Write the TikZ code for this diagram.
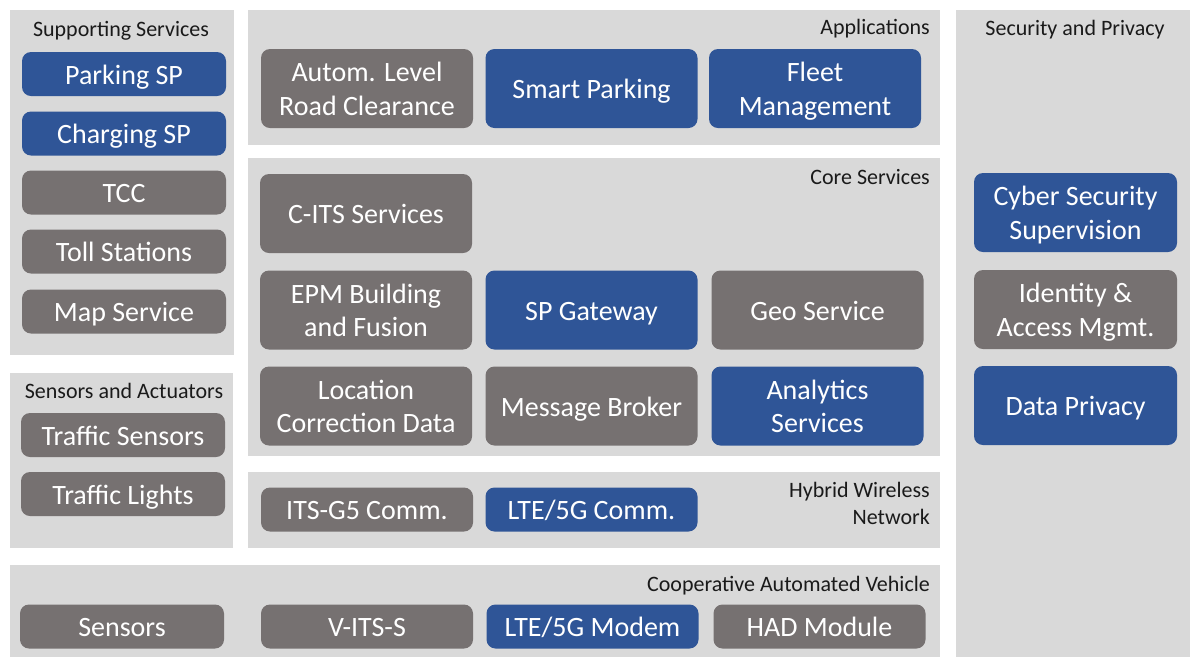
\documentclass[tikz,border=0pt]{standalone}
\usepackage{fontspec}
\setmainfont{Carlito}
\definecolor{panelgray}{HTML}{D9D9D9}
\definecolor{boxblue}{HTML}{2F5597}
\definecolor{boxgray}{HTML}{767171}
\definecolor{titletext}{HTML}{1A1A1A}
% fixed line box so that every label sits on the same baseline
\newcommand{\boxstrut}{\rule[-8pt]{0pt}{36pt}}
% the same for labels of two lines (measured from the last baseline)
\newcommand{\twostrut}{\rule{0pt}{61.5pt}}
\tikzset{
  panel/.style={fill=panelgray},
  tbox/.style={rounded corners=9pt, text=white, align=center, inner sep=0pt,
    font=\fontsize{28}{33.5}\selectfont,
    execute at begin node=\boxstrut, execute at end node=\boxstrut},
  twoline/.style={execute at end node=\twostrut},
  bluebox/.style={tbox, fill=boxblue},
  graybox/.style={tbox, fill=boxgray},
  sidebox/.style={minimum width=204pt, minimum height=44pt},
  tallbox/.style={minimum width=212pt, minimum height=79pt},
  flatbox/.style={minimum width=212pt, minimum height=44pt},
  secbox/.style={minimum width=203pt, minimum height=79pt},
  ptitle/.style={font=\fontsize{22}{27}\selectfont, text=titletext, inner sep=0pt},
}
\begin{document}
\begin{tikzpicture}[x=1pt,y=-1pt]
\useasboundingbox (0,0) rectangle (1190,657);
\fill[white] (0,0) rectangle (1190,657);

% layer panels
\fill[panel] (10,10)   rectangle (234,355);   % supporting services
\fill[panel] (10,373)  rectangle (233,548);   % sensors and actuators
\fill[panel] (248,10)  rectangle (940,145);   % applications
\fill[panel] (248,158) rectangle (940,456);   % core services
\fill[panel] (248,472) rectangle (940,548);   % hybrid wireless network
\fill[panel] (10,565)  rectangle (940,657);   % cooperative automated vehicle
\fill[panel] (956,10)  rectangle (1190,657);  % security and privacy

% panel titles
\node[ptitle, anchor=base] (tsup) at (121,36) {Supporting Services};
\node[ptitle, anchor=base] (tsen) at (124,398) {Sensors and Actuators};
\node[ptitle, anchor=base east] (tapp) at (930,34) {Applications};
\node[ptitle, anchor=base east] (tcore) at (930,184) {Core Services};
\node[ptitle, anchor=north east, align=right] (thyb) at (930,482) {Hybrid Wireless\\Network};
\node[ptitle, anchor=base east] (tcav) at (930,591) {Cooperative Automated Vehicle};
\node[ptitle, anchor=base] (tsec) at (1075,35) {Security and Privacy};

% supporting services
\node[bluebox, sidebox] (parking) at (124,74)    {Parking SP};
\node[bluebox, sidebox] (charging) at (124,133.5) {Charging SP};
\node[graybox, sidebox] (tcc) at (124,192.5)     {TCC};
\node[graybox, sidebox] (toll) at (124,251.5)    {Toll Stations};
\node[graybox, sidebox] (map) at (124,311.5)     {Map Service};

% sensors and actuators
\node[graybox, sidebox] (tsensors) at (123,435) {Traffic Sensors};
\node[graybox, sidebox] (tlights) at (123,494)  {Traffic Lights};

% applications
\node[graybox, tallbox, twoline] (alrc) at (367,88.5)  {Autom. Level\\Road Clearance};
\node[bluebox, tallbox] (smart) at (591.5,88.5)        {Smart Parking};
\node[bluebox, tallbox, twoline] (fleet) at (815,88.5) {Fleet\\Management};

% core services
\node[graybox, tallbox] (cits) at (366,213.5)             {C-ITS Services};
\node[graybox, tallbox, twoline] (epm) at (366,310)       {EPM Building\\and Fusion};
\node[bluebox, tallbox] (spgw) at (591.5,310)             {SP Gateway};
\node[graybox, tallbox] (geo) at (817.5,310)              {Geo Service};
\node[graybox, tallbox, twoline] (loc) at (366,406)       {Location\\Correction Data};
\node[graybox, tallbox] (broker) at (591.5,406)           {Message Broker};
\node[bluebox, tallbox, twoline] (analytics) at (817.5,406) {Analytics\\Services};

% hybrid wireless network
\node[graybox, flatbox] (itsg5) at (367,509.5)  {ITS-G5 Comm.};
\node[bluebox, flatbox] (lte) at (591.5,509.5)  {LTE/5G Comm.};

% cooperative automated vehicle
\node[graybox, sidebox] (vsensors) at (122,626.5) {Sensors};
\node[graybox, flatbox] (vits) at (367,626.5)    {V-ITS-S};
\node[bluebox, flatbox] (modem) at (592.5,626.5) {LTE/5G Modem};
\node[graybox, flatbox] (had) at (819.5,626.5)   {HAD Module};

% security and privacy
\node[bluebox, secbox, twoline] (cyber) at (1075.5,212.5) {Cyber Security\\Supervision};
\node[graybox, secbox, twoline] (iam) at (1075.5,309.5)   {Identity \&\\Access Mgmt.};
\node[bluebox, secbox] (privacy) at (1075.5,405.5)        {Data Privacy};
\end{tikzpicture}
\end{document}
